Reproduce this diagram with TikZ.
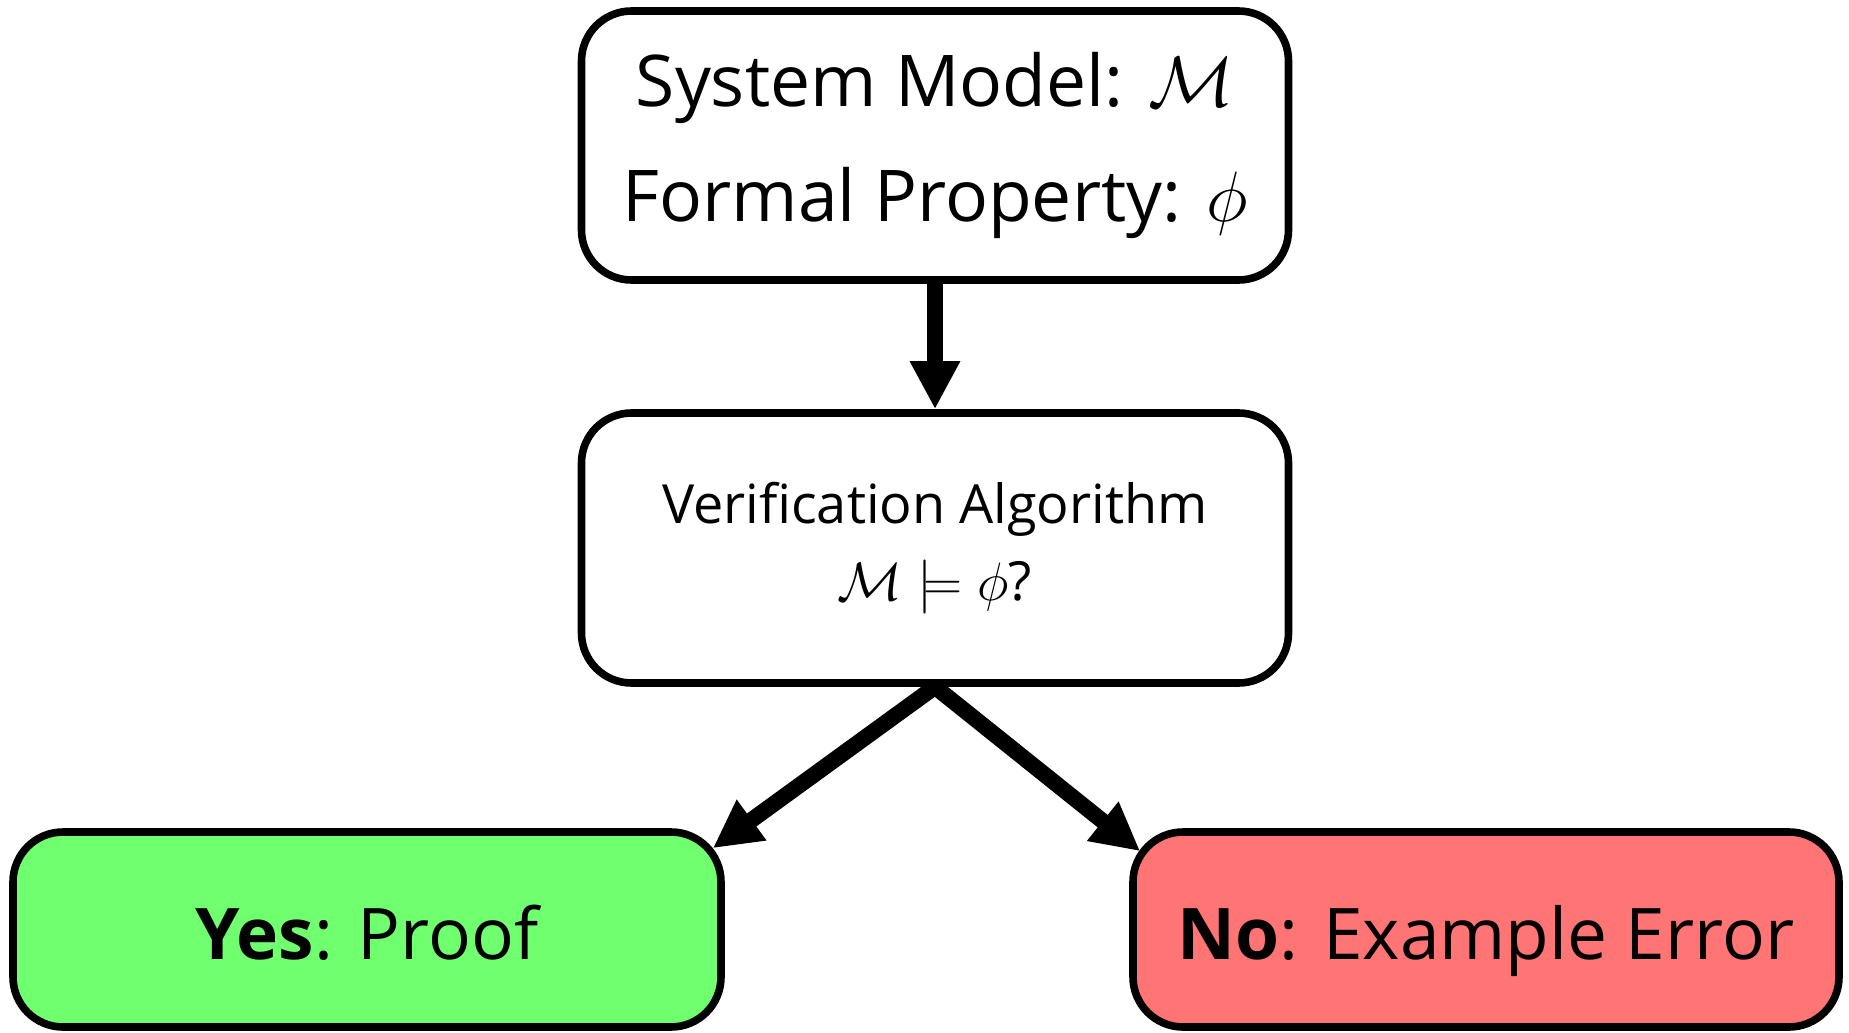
\documentclass[tikz,border=0pt]{standalone}
\usepackage{fix-cm}
\usepackage{fontspec}
\setmainfont{Open Sans}
\usetikzlibrary{arrows.meta,calc}

\definecolor{yesgreen}{RGB}{111,255,111}
\definecolor{nored}{RGB}{255,116,116}

\tikzset{
  box/.style={draw=black, line width=3.8pt, rounded corners=25pt,
    align=center, inner sep=0pt, minimum width=353.5pt},
  bigtext/.style={font=\fontsize{35.7}{57.5}\selectfont},
  midtext/.style={font=\fontsize{27}{38.5}\selectfont},
  outtext/.style={font=\fontsize{35.6}{40}\selectfont,
    text height=29.5pt, text depth=0pt},
  flow/.style={line width=8pt,
    -{Triangle[width=23.5pt,length=24pt]}},
}

\begin{document}
\begin{tikzpicture}[x=1pt,y=1pt]
  \useasboundingbox (0,0) rectangle (924.5,-516.5);

  % input box: model and property
  \node[box, bigtext, minimum height=134.5pt] (input) at (467.5,-72.75)
    {System Model: $\mathcal{M}$\\Formal Property: $\phi$};

  % model checking step
  \node[box, midtext, minimum height=135pt] (check) at (467.5,-274)
    {Verification Algorithm\\$\mathcal{M}\models\phi$?};

  % the two outcomes
  \node[box, outtext, fill=yesgreen, minimum width=354pt, minimum height=97.5pt]
    (yes) at (183.5,-464.75) {\textbf{Yes}: Proof};
  \node[box, outtext, fill=nored, minimum width=353pt, minimum height=97.5pt]
    (no) at (743,-464.75) {\textbf{No}: Example Error};

  % connectors
  \draw[flow] (input.south) -- (check.north);
  \draw[flow] (check.south) -- ($(yes.north east)+(-6pt,-10pt)$);
  \draw[flow] (check.south) -- ($(no.north west)+(5.5pt,-11.5pt)$);
\end{tikzpicture}
\end{document}
